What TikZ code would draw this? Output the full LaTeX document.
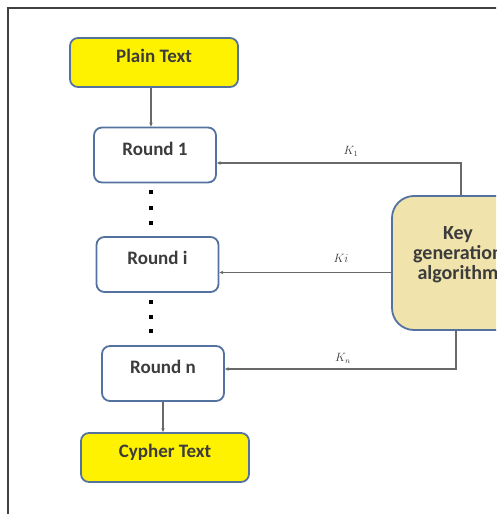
\documentclass[tikz,border=0pt]{standalone}
\usepackage{fontspec}
\setmainfont{Carlito}
\usetikzlibrary{arrows.meta}

\definecolor{boxyellow}{RGB}{255,242,0}
\definecolor{boxedge}{RGB}{84,114,160}
\definecolor{keyfill}{RGB}{240,228,172}
\definecolor{linkgray}{RGB}{105,105,105}
\definecolor{textgray}{RGB}{60,60,60}

\begin{document}
\begin{tikzpicture}[x=1pt,y=-1pt,>=stealth,
    box/.style={rectangle,rounded corners=8pt,draw=boxedge,line width=1.8pt,
      text=textgray,font=\fontsize{19}{22}\selectfont\bfseries,
      text height=10pt,text depth=10pt,inner sep=0pt},
    textbox/.style={box,fill=boxyellow,minimum width=168pt,minimum height=49pt},
    roundbox/.style={box,fill=white,minimum width=122pt,minimum height=55pt},
    keybox/.style={rectangle,rounded corners=22pt,draw=boxedge,line width=1.8pt,
      fill=keyfill,minimum width=132pt,minimum height=134pt},
    link/.style={draw=linkgray,line width=1.1pt,-{Stealth[length=4pt,width=3.5pt]}},
    keylabel/.style={font=\fontsize{12}{14}\selectfont,text=textgray},
    dot/.style={rectangle,fill=black,minimum size=4.5pt,inner sep=0pt}]
    \useasboundingbox (0,0) rectangle (496,514);
    \clip (0,0) rectangle (496,514);
    % outer frame
    \draw[black!75,line width=2pt] (8,520) -- (8,8) -- (500,8);

    \node[textbox] (plain) at (154,62.5) {Plain Text};
    \node[roundbox] (round1) at (155,155) {Round 1};
    \node[roundbox] (roundi) at (157.5,264.5) {Round i};
    \node[roundbox] (roundn) at (163,373.5) {Round n};
    \node[textbox] (cypher) at (165,457.5) {Cypher Text};
    \node[keybox,label={[align=center,text=textgray,yshift=8pt,
      font=\fontsize{20}{20}\selectfont\bfseries]center:Key\\generation\\algorithm}]
      (keygen) at (458,263) {};

    % dots between the rounds
    \foreach \y [count=\i] in {192,208,223} {
      \node[dot] (dota\i) at (151,\y) {};
    }
    \foreach \y [count=\i] in {302,317,331} {
      \node[dot] (dotb\i) at (151,\y) {};
    }

    \draw[link] (plain.south -| 151,0) -- (round1.north -| 151,0);
    \draw[link] (roundn.south) -- (roundn.south |- cypher.north);

    % round keys
    \coordinate (k1) at ([yshift=-8pt]round1.east);
    \coordinate (ki) at ([yshift=-8pt]roundi.east);
    \coordinate (kn) at ([yshift=4.5pt]roundn.east);
    \draw[link] ([xshift=3pt]keygen.north) |- (k1);
    \draw[link] (keygen.west |- ki) -- (ki);
    \draw[link] ([xshift=-2pt]keygen.south) |- (kn);
    \node[keylabel] (k1lab) at (351,151) {$K_1$};
    \node[keylabel] (kilab) at (341,258) {$Ki$};
    \node[keylabel] (knlab) at (343,358) {$K_n$};
\end{tikzpicture}
\end{document}
